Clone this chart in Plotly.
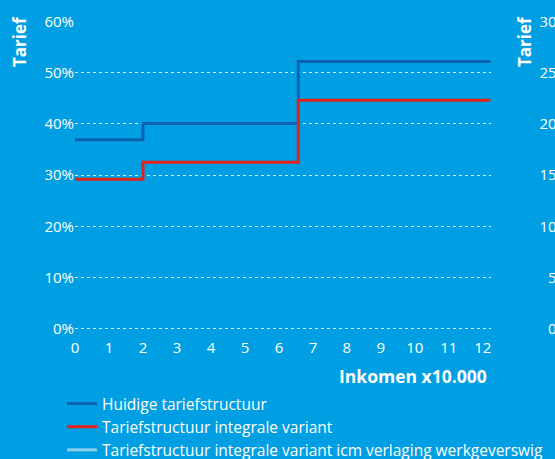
import plotly.graph_objects as go

# Data
income = [0, 2, 6.57, 12.22]            # x 10.000 euro, bracket starts (+ end)
huidig = [36.9, 40.1, 52.2, 52.2]       # %
integraal = [29.2, 32.5, 44.6, 44.6]    # %
x_ticks = list(range(0, 13))
y_ticks = [0, 10, 20, 30, 40, 50, 60]
y_ticktext = [f"{v}%" for v in y_ticks]
y2_ticks = [0, 5, 10, 15, 20, 25, 30]
y2_ticktext = [f"{v}%" for v in y2_ticks]

series_names = [
    "Huidige tariefstructuur",
    "Tariefstructuur integrale variant",
    "Tariefstructuur integrale variant icm verlaging werkgeverswig",
]

BG = "#009fe3"
DARK = "#0c62b0"
RED = "#e3231b"
LIGHT = "#8fcdef"
FONT = "Open Sans"

W, H = 555, 459
ML, MR, MT, MB = 75, 64, 21, 129
PW = W - ML - MR
PH = H - MT - MB


def px_x(p):
    return (p - ML) / PW


def px_y(p):
    return (H - MB - p) / PH


fig = go.Figure()
fig.add_trace(go.Scatter(x=income, y=huidig, mode="lines", line=dict(color=DARK, width=3, shape="hv"),
                         name=series_names[0]))
fig.add_trace(go.Scatter(x=income, y=integraal, mode="lines", line=dict(color=RED, width=3, shape="hv"),
                         name=series_names[1]))
fig.add_trace(go.Scatter(x=[None], y=[None], mode="lines", line=dict(color=LIGHT, width=3),
                         name=series_names[2]))
fig.add_trace(go.Scatter(x=[None], y=[None], yaxis="y2", showlegend=False, hoverinfo="skip"))

fig.update_layout(
    width=W, height=H,
    margin=dict(l=ML, r=MR, t=MT, b=MB, autoexpand=False),
    paper_bgcolor=BG, plot_bgcolor=BG,
    font=dict(family=FONT, color="white", size=15),
    showlegend=True,
    legend=dict(x=px_x(62), y=px_y(387), xanchor="left", yanchor="top",
                bgcolor="rgba(0,0,0,0)", font=dict(size=15.5, color="white"),
                tracegroupgap=0, itemwidth=30),
    xaxis=dict(range=[0, 12.24], tickvals=x_ticks, showgrid=False, zeroline=False,
               showline=False, ticks="", ticklabelstandoff=7, automargin=False,
               tickfont=dict(size=15, color="white")),
    yaxis=dict(range=[-0.25, 60.1], tickvals=y_ticks, ticktext=y_ticktext, showgrid=True,
               gridcolor="rgba(255,255,255,0.9)", griddash="dot", gridwidth=1, automargin=False,
               zeroline=False, showline=False, ticks="", tickfont=dict(size=15, color="white")),
    yaxis2=dict(range=[-0.125, 30.05], tickvals=y2_ticks, ticktext=y2_ticktext, overlaying="y",
                anchor="free", position=1, side="left", showgrid=False, zeroline=False,
                showline=False, ticks="", automargin=False, ticklabelstandoff=-78,
                tickfont=dict(size=15, color="white")),
    annotations=[
        dict(text="<b>Tarief</b>", textangle=-90, x=px_x(20), y=px_y(42), xref="paper", yref="paper",
             xanchor="center", yanchor="middle", showarrow=False, font=dict(size=17, color="white")),
        dict(text="<b>Tarief</b>", textangle=-90, x=px_x(525), y=px_y(42), xref="paper", yref="paper",
             xanchor="center", yanchor="middle", showarrow=False, font=dict(size=17, color="white")),
        dict(text="<b>Inkomen x10.000</b>", x=px_x(489), y=px_y(376), xref="paper", yref="paper",
             xanchor="right", yanchor="middle", showarrow=False, font=dict(size=17.5, color="white")),
    ],
)

fig.write_html("out.html", config={"displayModeBar": False},
               post_script="document.body.style.margin='0';")
